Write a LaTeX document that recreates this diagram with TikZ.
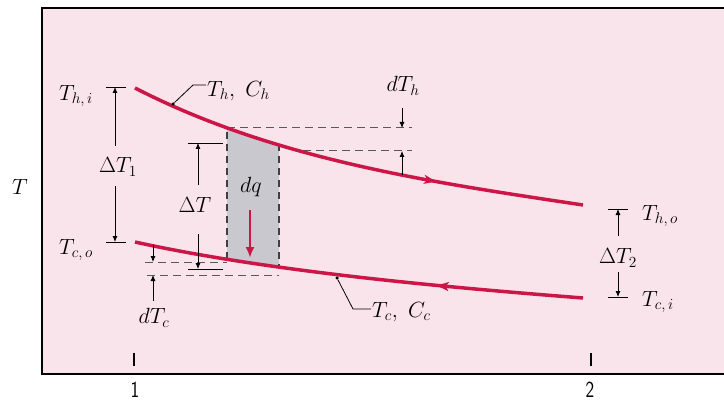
\RequirePackage{fix-cm}
\documentclass[tikz,border=0pt]{standalone}
\usetikzlibrary{arrows.meta,decorations.markings}
\definecolor{bgpink}{RGB}{250,228,235}
\definecolor{curvered}{RGB}{204,22,72}
\definecolor{stripgray}{RGB}{200,200,206}
\begin{document}
\begin{tikzpicture}[x=1pt,y=-1pt,
  lab/.style={font=\fontsize{22}{26}\selectfont, inner sep=0pt},
  numlab/.style={font=\sffamily\fontsize{23}{26}\selectfont, inner sep=0pt, xscale=0.8},
  dim/.style={line width=0.8pt, -{Latex[length=6pt,width=5pt]}},
  barline/.style={line width=0.9pt},
  guide/.style={dash pattern=on 8pt off 5pt, line width=1pt, black!65},
  stripedge/.style={dash pattern=on 7pt off 5pt, line width=1.8pt, black!75},
  flow/.style={line width=3.5pt, curvered},
  leader/.style={line width=0.8pt},
  hotarrow/.style={postaction={decorate}, decoration={markings,
     mark=at position 0.68 with {\arrow{Stealth[length=12pt,width=9pt,inset=3pt]}}}},
  coldarrow/.style={postaction={decorate}, decoration={markings,
     mark=at position 0.675 with {\arrowreversed{Stealth[length=12pt,width=9pt,inset=3pt]}}}},
  dotmark/.style={circle, fill=black, inner sep=0pt, minimum size=3.5pt}]
\useasboundingbox (0,0) rectangle (724,404);

% frame and background
\fill[bgpink] (42,8) rectangle (730,374);
\draw[line width=2.5pt] (735,8) -- (42,8) -- (42,374) -- (735,374);

% curve end points
\coordinate (hi) at (135,88);
\coordinate (ho) at (583,205);
\coordinate (co) at (135,242);
\coordinate (ci) at (583,298);

% strip dq (clipped between the curves)
\begin{scope}
  \clip (hi) .. controls (275,160) and (433,182.5) .. (ho) -- (ci)
        .. controls (433,286.3) and (265,270.6) .. (co) -- cycle;
  \fill[stripgray] (227,0) rectangle (279,404);
  \draw[stripedge] (227,0) -- (227,404);
  \draw[stripedge] (279,0) -- (279,404);
\end{scope}

% dashed guide lines
\coordinate (hA) at (227,128);
\coordinate (hAe) at (412,128);
\coordinate (hB) at (303,151);
\coordinate (hBe) at (412,151);
\draw[guide] (hA) -- (hAe);
\draw[guide] (hB) -- (hBe);
\coordinate (cA) at (145,262);
\coordinate (cAe) at (227,262);
\coordinate (cB) at (147,275);
\coordinate (cBe) at (279,275);
\draw[guide] (cA) -- (cAe);
\draw[guide] (cB) -- (cBe);

% curves
\draw[flow, hotarrow] (hi) .. controls (275,160) and (433,182.5) .. (ho);
\draw[flow, coldarrow] (co) .. controls (265,270.6) and (433,286.3) .. (ci);

% dots on curves and leaders
\node[dotmark] (dh) at (173,104) {};
\node[dotmark] (dc) at (337,278) {};
\node[lab, anchor=west] (lThCh) at (207,91) {$T_h,\ C_h$};
\node[lab, anchor=west] (lTcCc) at (372,312) {$T_c,\ C_c$};
\coordinate (kh1) at (193,85);
\coordinate (kh2) at (206,85);
\coordinate (kc1) at (353,309);
\coordinate (kc2) at (371,309);
\draw[leader] (dh) -- (kh1) -- (kh2);
\draw[leader] (dc) -- (kc1) -- (kc2);

% axis labels
\node[lab] (lT) at (20,187) {$T$};
\node[lab] (lThi) at (76,96) {$T_{h,\,i}$};
\node[lab] (lTco) at (76,250) {$T_{c,\,o}$};
\node[lab, anchor=west] (lTho) at (642,216) {$T_{h,\,o}$};
\node[lab, anchor=west] (lTci) at (642,302) {$T_{c,\,i}$};

% Delta T1
\node[lab] (lD1) at (118,167) {$\Delta T_1$};
\coordinate (d1t) at (115,87);
\coordinate (d1b) at (115,242);
\coordinate (d1tt) at (115,146);
\coordinate (d1bt) at (115,186);
\draw[barline] (106,87) -- (126,87);
\draw[barline] (106,242) -- (126,242);
\draw[dim] (d1tt) -- (d1t);
\draw[dim] (d1bt) -- (d1b);

% Delta T
\node[lab] (lD) at (195,205) {$\Delta T$};
\coordinate (dt) at (198,143);
\coordinate (db) at (198,269);
\coordinate (dtt) at (198,185);
\coordinate (dbt) at (198,234);
\draw[barline] (188,143) -- (223,143);
\draw[barline] (188,269) -- (223,269);
\draw[dim] (dtt) -- (dt);
\draw[dim] (dbt) -- (db);

% Delta T2
\node[lab] (lD2) at (618,258) {$\Delta T_2$};
\coordinate (d2t) at (618,209);
\coordinate (d2b) at (618,297);
\coordinate (d2tt) at (618,236);
\coordinate (d2bt) at (618,272);
\draw[barline] (608,209) -- (628,209);
\draw[barline] (608,297) -- (628,297);
\draw[dim] (d2tt) -- (d2t);
\draw[dim] (d2bt) -- (d2b);

% dT_h
\node[lab] (ldTh) at (403,86) {$dT_h$};
\coordinate (th1) at (402,108);
\coordinate (th2) at (402,128);
\coordinate (th3) at (402,175);
\coordinate (th4) at (402,151);
\draw[dim] (th1) -- (th2);
\draw[dim] (th3) -- (th4);

% dT_c
\node[lab] (ldTc) at (154,318) {$dT_c$};
\coordinate (tc1) at (153,245);
\coordinate (tc2) at (153,262);
\coordinate (tc3) at (153,301);
\coordinate (tc4) at (153,275);
\draw[dim] (tc1) -- (tc2);
\draw[dim] (tc3) -- (tc4);

% dq
\node[lab] (ldq) at (251,187) {$dq$};
\coordinate (q1) at (250,210);
\coordinate (q2) at (250,258);
\draw[line width=2.2pt, curvered, -{Latex[length=11pt,width=9pt]}] (q1) -- (q2);

% ticks and numbers
\draw[line width=1.2pt] (134,353) -- (134,366);
\draw[line width=1.2pt] (591,353) -- (591,366);
\node[numlab] (n1) at (135,390) {1};
\node[numlab] (n2) at (590,390) {2};
\end{tikzpicture}
\end{document}
